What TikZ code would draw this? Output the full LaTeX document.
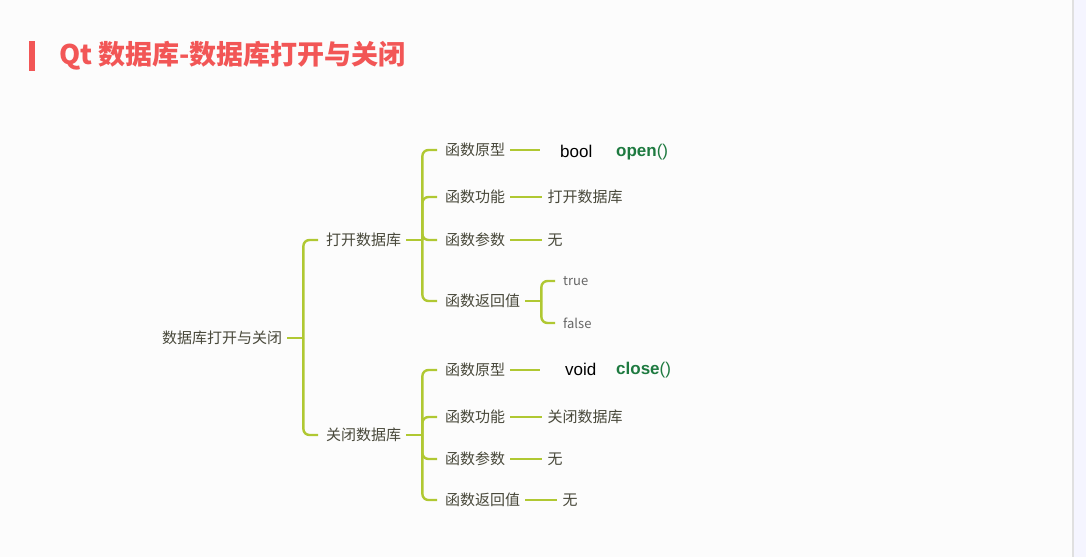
\documentclass[tikz,border=0pt]{standalone}
\usepackage{fontspec}
\setmainfont{Noto Sans CJK SC}
\newfontfamily\codefont{Liberation Sans}
\usepackage{tikz}
\usetikzlibrary{calc}

\definecolor{titleRed}{RGB}{242,86,86}
\definecolor{branchGreen}{RGB}{176,200,50}
\definecolor{labelGray}{RGB}{72,72,58}
\definecolor{funcGreen}{RGB}{30,122,64}

\begin{document}
\begin{tikzpicture}[x=1pt,y=-1pt,
  lbl/.style={anchor=west,inner xsep=5pt,inner ysep=2pt,text=labelGray,font=\fontsize{15}{18}\selectfont},
  small/.style={lbl,text=black!60,font=\fontsize{13}{16}\selectfont},
  code/.style={anchor=west,inner xsep=0pt,font=\codefont\fontsize{17}{20}\selectfont},
  branch/.style={draw=branchGreen,line width=2.4pt,rounded corners=6pt},
  twig/.style={branch,shorten >=3pt}]
  %% Slide background
  \useasboundingbox (0,0) rectangle (1086,557);
  \fill[black!1] (0,0) rectangle (1073,557);
  \fill[blue!4!white] (1073,0) rectangle (1086,557);
  \draw[black!12,line width=1.5pt] (1073,0) -- (1073,557);

  %% Title
  \fill[titleRed] (29,41) rectangle (35,71);
  \node[anchor=west,inner sep=0pt,text=titleRed,font=\fontsize{27}{32}\selectfont\bfseries] (title) at (59,56) {Qt 数据库-数据库打开与关闭};

  %% Root and its two branches
  \node[lbl] (root) at (157,338) {数据库打开与关闭};
  \draw[branch] (root.east) -- ++(16,0) coordinate (rootJ);
  \node[lbl] (openDb) at (321,240) {打开数据库};
  \node[lbl] (closeDb) at (321,435) {关闭数据库};
  \foreach \n in {openDb,closeDb}
    \draw[twig] (rootJ) |- (\n.west);

  %% Opening the database
  \draw[branch] (openDb.east) -- ++(16,0) coordinate (openJ);
  \foreach \n/\y/\t in {oProto/150/函数原型, oFunc/197/函数功能, oParam/240/函数参数, oRet/301/函数返回值}
  {
    \node[lbl] (\n) at (440,\y) {\t};
    \draw[twig] (openJ) |- (\n.west);
  }

  %% Closing the database
  \draw[branch] (closeDb.east) -- ++(16,0) coordinate (closeJ);
  \foreach \n/\y/\t in {cProto/370/函数原型, cFunc/417/函数功能, cParam/459/函数参数, cRet/500/函数返回值}
  {
    \node[lbl] (\n) at (440,\y) {\t};
    \draw[twig] (closeJ) |- (\n.west);
  }

  %% Values
  \foreach \n/\t in {oFunc/打开数据库, oParam/无, cFunc/关闭数据库, cParam/无, cRet/无}
  {
    \node[lbl] (\n-val) at ($(\n.east)+(32,0)$) {\t};
    \draw[branch] (\n.east) -- (\n-val.west);
  }

  %% Prototypes
  \node[code] (oType) at (560,151) {bool};
  \node[code,text=funcGreen] (oName) at (616,152) {\textbf{open}()};
  \draw[branch,shorten >=20pt] (oProto.east) -- (oProto.east -| oType.west);
  \node[code] (cType) at (565,369) {void};
  \node[code,text=funcGreen] (cName) at (616,370) {\textbf{close}()};
  \draw[branch,shorten >=25pt] (cProto.east) -- (cProto.east -| cType.west);

  %% Return values of open()
  \draw[branch] (oRet.east) -- ++(16,0) coordinate (retJ);
  \node[small] (oTrue) at (558,281) {true};
  \node[small] (oFalse) at (558,323) {false};
  \foreach \n in {oTrue,oFalse}
    \draw[twig] (retJ) |- (\n.west);
\end{tikzpicture}
\end{document}
